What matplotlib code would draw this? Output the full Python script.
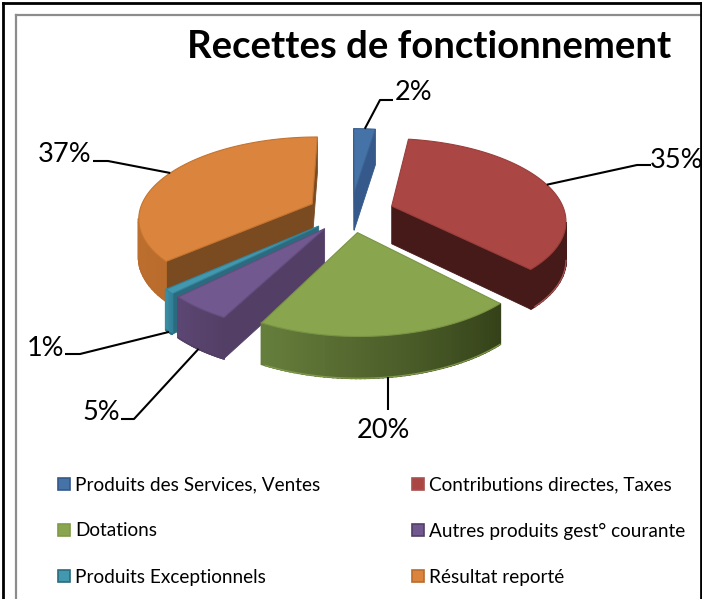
import numpy as np
import matplotlib
matplotlib.use("Agg")
import matplotlib.pyplot as plt
from matplotlib.patches import Polygon, Rectangle

# ---- data
categories = ["Produits des Services, Ventes", "Contributions directes, Taxes", "Dotations",
              "Autres produits gest° courante", "Produits Exceptionnels", "Résultat reporté"]
values = [2.4, 35.4, 19.8, 4.9, 0.9, 36.6]
title = "Recettes de fonctionnement"

# ---- style
top_colors = ["#4572A7", "#AA4643", "#89A54E", "#71588F", "#4198AF", "#DB843D"]
edge_colors = ["#3A6190", "#9A3E3B", "#7A9445", "#634D7F", "#378298", "#C4742F"]
radial_colors = ["#35598A", "#451A18", "#3A4A1C", "#533F66", "#2A6B7F", "#7A4A20"]
# outer rim colour at the start and at the end of each slice
rim_start = ["#35598A", "#451A18", "#354219", "#533F66", "#2F7F96", "#B96C2C"]
rim_end = ["#35598A", "#451A18", "#667E3C", "#5C4673", "#3A8CA3", "#C87A35"]
line_colors = ["#35598A", "#A85250", "#7F9A48", "#533F66", "#2A6B7F", "#B96C2C"]
draw_order = [0, 5, 1, 4, 3, 2]

# ---- pie geometry (pixels, projective tilt)
CX, CY = 351, 212
R, K, P = 173, 80, 0.159
DEPTH = 38
EXPLODE = 0.25
START_DEG = 0.0

# ---- labels and layout
pct_labels = [f"{round(v)}%" for v in values]
label_pos = [(395, 92), (650, 161), (383, 430), (82, 412), (27, 348), (38, 154)]
label_ha = ["left", "left", "center", "left", "left", "left"]
leader_via = [[(380, 100), (393, 100)], [(637, 165), (651, 165)], [(None, 410)],
              [(134, 419), (121, 419)], [(80, 354), (65, 354)], [(108, 161), (93, 161)]]
leader_on_rim = [False, False, True, True, True, False]
legend_x = [58, 412]
legend_y = [484, 530, 576]


def bg(c):
    return np.array(matplotlib.colors.to_rgb(c))


def project(u, v, drop=0.0):
    s = 1.0 / (1.0 + P * v)
    return CX + R * u * s, CY - K * v * s + DEPTH * (1 + 0.4 * (s - 1)) * drop


fig = plt.figure(figsize=(7.02, 5.99), dpi=100)
ax = fig.add_axes([0, 0, 1, 1])
ax.set_xlim(0, 702)
ax.set_ylim(599, 0)
ax.axis("off")
plt.rcParams["font.family"] = ["Lato", "DejaVu Sans"]

# frame
ax.plot([16, 16], [599, 15], color="#8C8C8C", lw=1.6)
ax.plot([16, 702], [15, 15], color="#8C8C8C", lw=1.6)
ax.plot([3, 3], [599, 3], color="black", lw=2.0, zorder=30)
ax.plot([3, 701], [3, 3], color="black", lw=2.0, zorder=30)
ax.plot([701, 701], [3, 599], color="black", lw=2.0, zorder=30)

# slice angles
edges = START_DEG + np.concatenate([[0], np.cumsum(values)]) / sum(values) * 360
mids = (edges[:-1] + edges[1:]) / 2


def slice_points(i, drop=0.0, n=60):
    th = np.radians(np.linspace(edges[i], edges[i + 1], n))
    m = np.radians(mids[i])
    ox, oy = EXPLODE * np.sin(m), EXPLODE * np.cos(m)
    rim = [project(ox + np.sin(t), oy + np.cos(t), drop) for t in th]
    apex = project(ox, oy, drop)
    return apex, rim


z = 2
for i in draw_order:
    apex_t, rim_t = slice_points(i)
    apex_b, rim_b = slice_points(i, 1.0)
    # radial faces: visible when the clockwise outline runs leftwards
    if rim_t[0][0] - apex_t[0] < 0:
        ax.add_patch(Polygon([apex_t, rim_t[0], rim_b[0], apex_b], fc=radial_colors[i],
                             ec=radial_colors[i], lw=0.6, zorder=z))
    if apex_t[0] - rim_t[-1][0] < 0:
        ax.add_patch(Polygon([rim_t[-1], apex_t, apex_b, rim_b[-1]], fc=radial_colors[i],
                             ec=radial_colors[i], lw=0.6, zorder=z))
    # outer rim with a shaded run along the arc
    c0, c1 = bg(rim_start[i]), bg(rim_end[i])
    for j in range(len(rim_t) - 1):
        if rim_t[j + 1][0] - rim_t[j][0] < 0:
            c = c0 + (c1 - c0) * j / (len(rim_t) - 2)
            ax.add_patch(Polygon([rim_t[j], rim_t[j + 1], rim_b[j + 1], rim_b[j]], fc=c, ec=c,
                                 lw=1.4, zorder=z))
    # thin lit line under the rim
    lower = [p for j, p in enumerate(rim_b[:-1]) if rim_t[j + 1][0] - rim_t[j][0] < 0]
    if lower:
        ax.plot(*zip(*lower), color=line_colors[i], lw=0.9, zorder=z)
    ax.add_patch(Polygon([apex_t] + rim_t, fc=top_colors[i], ec=edge_colors[i], lw=0.8, zorder=z))
    z += 1

# leaders
for i in range(len(values)):
    _, rim = slice_points(i, 1.0 if leader_on_rim[i] else 0.0)
    anchor = rim[len(rim) // 2]
    via = [(anchor[0] if x is None else x, y) for x, y in leader_via[i]]
    pts = [anchor] + via
    ax.plot(*zip(*pts), color="black", lw=1.5, zorder=20, solid_capstyle="butt")
    ax.text(label_pos[i][0], label_pos[i][1], pct_labels[i], fontsize=19.5, ha=label_ha[i],
            va="center", color="black", zorder=21)

ax.text(429, 47, title, fontsize=27.5, fontweight="bold", ha="center", va="center", color="black")

# legend
for i, name in enumerate(categories):
    x = legend_x[i % 2]
    y = legend_y[i // 2]
    ax.add_patch(Rectangle((x, y - 6), 12, 12, fc=top_colors[i], ec=line_colors[i], lw=1.2))
    ax.text(x + 17, y + 1, name, fontsize=13.7, ha="left", va="center", color="black")

fig.savefig("out.png", dpi=100)
